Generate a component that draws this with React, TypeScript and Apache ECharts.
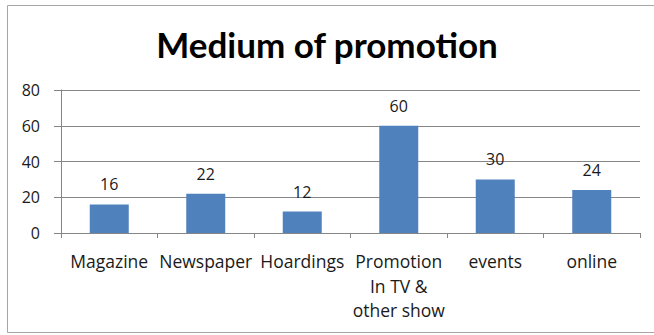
import React, { useEffect, useRef } from "react";
import * as echarts from "echarts";

const categories = ["Magazine", "Newspaper", "Hoardings", "Promotion\nIn TV &\nother show", "events", "online"];
const values = [16, 22, 12, 60, 30, 24];
const titleText = "Medium of promotion";
const yMin = 0;
const yMax = 80;
const yInterval = 20;

export default function App() {
  const ref = useRef<HTMLDivElement>(null);
  useEffect(() => {
    if (!ref.current) return;
    const chart = echarts.init(ref.current, null, { renderer: "svg" });
    chart.setOption({
      animation: false,
      backgroundColor: "#ffffff",
      textStyle: { fontFamily: "Open Sans" },
      title: {
        text: titleText,
        left: "center",
        top: 21,
        textStyle: { fontFamily: "Lato", fontWeight: "bold", fontSize: 35, color: "#000" },
      },
      graphic: [
        {
          type: "rect",
          shape: { x: 7.5, y: 5.5, width: 700, height: 327 },
          style: { fill: "none", stroke: "#a6a6a6", lineWidth: 1 },
          silent: true,
        },
      ],
      grid: { left: 61, right: 14, top: 90, bottom: 102 },
      xAxis: {
        type: "category",
        data: categories,
        axisLine: { lineStyle: { color: "#868686" } },
        axisTick: { show: true, length: 5, alignWithLabel: false, lineStyle: { color: "#868686" } },
        axisLabel: { interval: 0, margin: 16, fontSize: 17.5, lineHeight: 24.5, color: "#1a1a1a", fontFamily: "Open Sans" },
      },
      yAxis: {
        type: "value",
        min: yMin,
        max: yMax,
        interval: yInterval,
        axisLine: { show: true, lineStyle: { color: "#868686" } },
        axisTick: { show: true, length: 7, lineStyle: { color: "#868686" } },
        splitLine: { lineStyle: { color: "#868686" } },
        axisLabel: { margin: 21, fontSize: 16, color: "#1a1a1a", fontFamily: "Open Sans" },
      },
      series: [
        {
          type: "bar",
          data: values,
          barWidth: 39,
          itemStyle: { color: "#4f81bd" },
          label: { show: true, position: "top", distance: 12, fontSize: 16, color: "#1a1a1a", fontFamily: "Open Sans" },
        },
      ],
    });
    return () => chart.dispose();
  }, []);
  return <div ref={ref} style={{ position: "fixed", left: 0, top: 0, width: 654, height: 335 }} />;
}
